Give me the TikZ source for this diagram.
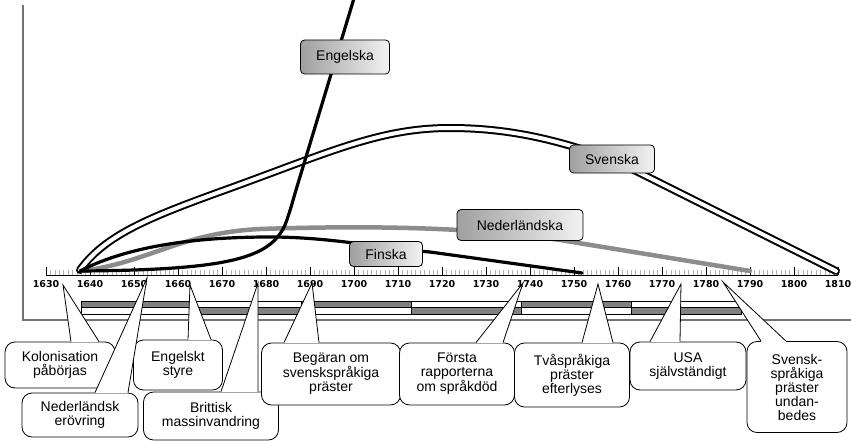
\documentclass[tikz,border=0pt]{standalone}
\usepackage{fontspec}
\setmainfont{Liberation Sans}
\newfontfamily\yearfont{DejaVu Sans}

\tikzset{
  language/.style={draw, rounded corners=4pt, left color=gray!75, right color=gray!10, line width=0.8pt, font=\fontsize{14}{14}\selectfont, inner sep=0pt},
  event/.style={draw, fill=white, rounded corners=10pt, align=center, line width=0.8pt, font=\fontsize{14}{14}\selectfont, inner sep=0pt},
  pointer/.style={line width=0.8pt, line join=miter},
  year/.style={font=\yearfont\bfseries\fontsize{9.5}{9.5}\selectfont, inner sep=0pt},
}

\begin{document}
\begin{tikzpicture}[x=1pt, y=-1pt]
  \useasboundingbox (0,0) rectangle (851,441);

  % frame
  \draw[black!55, line width=1.2pt] (23,5) -- (23,320) -- (851,320);

  % 25-year periods
  \foreach \x in {81,301,521} \draw[fill=gray, line width=0.5pt] (\x,301) rectangle ++(110,6.5);
  \foreach \x in {191,411,631} \draw[fill=gray, line width=0.5pt] (\x,307.5) rectangle ++(110,6.5);
  \draw[line width=0.5pt] (81,301) rectangle (741,314) (81,307.5) -- (741,307.5);

  % time axis
  \foreach \yr in {1630,...,1810}
    \draw[gray!60, line width=0.5pt] ({46+4.4*(\yr-1630)},270) -- ++(0,5);
  \foreach \yr in {1630,1640,...,1810} {
    \draw[line width=0.8pt] ({46+4.4*(\yr-1630)},267) -- ++(0,8);
    \node[year] (y\yr) at ({46+4.4*(\yr-1630)},284) {\yr};
  }
  \draw[line width=1pt] (46,275) -- (838,275);

  % languages
  \draw[line width=2pt, double=white, double distance=4pt, line cap=round]
    (80,270) .. controls (105,235) and (150,217) .. (225,190)
    .. controls (330,152) and (380,128) .. (450,128)
    .. controls (520,128) and (570,145) .. (612,159) -- (836,271);
  \draw[black!45, line width=4.5pt, line cap=round]
    (82,271) .. controls (150,262) and (180,233) .. (260,229)
    .. controls (380,225) and (480,228) .. (560,240) -- (750,271);
  \draw[line width=3.2pt, line cap=round]
    (80,271) .. controls (130,245) and (200,237) .. (270,237)
    .. controls (330,237) and (380,248) .. (430,252) -- (582,273);
  \draw[line width=3.2pt]
    (80,271) .. controls (230,270) and (270,258) .. (285,225)
    .. controls (290,212) and (293,200) .. (296,190) -- (355,-5);

  \node[language, minimum width=89pt, minimum height=34pt] (engelska) at (345,57) {Engelska};
  \node[language, minimum width=85pt, minimum height=28pt] (svenska) at (612,159) {Svenska};
  \node[language, minimum width=126pt, minimum height=31pt] (nederlandska) at (520,225) {Nederländska};
  \node[language, minimum width=73pt, minimum height=25pt] (finska) at (386,254) {Finska};

  % events
  \node[event, minimum width=110pt, minimum height=46pt] (kol) at (60,365) {Kolonisation\\påbörjas};
  \node[event, minimum width=116pt, minimum height=44pt] (ned) at (80,415) {Nederländsk\\erövring};
  \node[event, minimum width=89pt, minimum height=50pt] (eng) at (178,365) {Engelskt\\styre};
  \node[event, minimum width=135pt, minimum height=48pt] (bri) at (211,416) {Brittisk\\massinvandring};
  \node[event, minimum width=139pt, minimum height=62pt] (beg) at (331,374) {Begäran om\\svenskspråkiga\\präster};
  \node[event, minimum width=115pt, minimum height=62pt] (forsta) at (457,374) {Första\\rapporterna\\om språkdöd};
  \node[event, minimum width=115pt, minimum height=64pt] (tva) at (572,375) {Tvåspråkiga\\präster\\efterlyses};
  \node[event, minimum width=116pt, minimum height=48pt] (usa) at (688,366) {USA\\självständigt};
  \node[event, minimum width=100pt, minimum height=91pt] (sve) at (797,387) {Svensk-\\språkiga\\präster\\undan-\\bedes};

  \coordinate (kol-tip) at (63,285);
  \coordinate (ned-tip) at (147,278);
  \coordinate (eng-tip) at (190,285);
  \coordinate (bri-tip) at (258,283);
  \coordinate (beg-tip) at (312,283);
  \coordinate (forsta-tip) at (523,283);
  \coordinate (tva-tip) at (598,284);
  \coordinate (usa-tip) at (681,284);
  \coordinate (sve-tip) at (723,282);

  \foreach \n/\a/\b in {kol/71/99, ned/95/128, eng/188/211, bri/221/258, beg/284/319,
                        forsta/476/503, tva/582/613, usa/650/680, sve/761/786} {
    \fill[white] (\a,0 |- \n.north) -- (\n-tip) -- (\b,0 |- \n.north) -- cycle;
    \draw[white, line width=1.4pt] (\a,0 |- \n.north) -- (\b,0 |- \n.north);
    \draw[pointer] (\a,0 |- \n.north) -- (\n-tip) -- (\b,0 |- \n.north);
  }
\end{tikzpicture}
\end{document}
